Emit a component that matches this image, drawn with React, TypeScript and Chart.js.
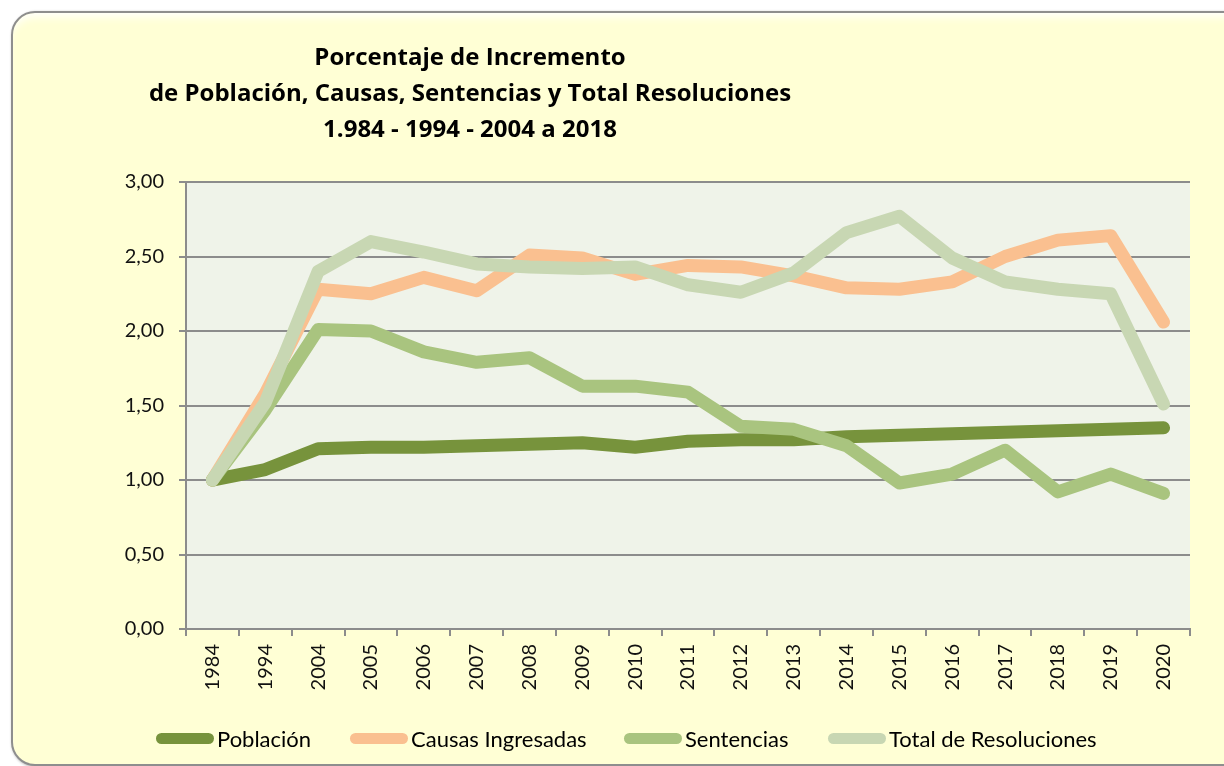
import React, { useEffect, useRef } from "react";
import { Chart, registerables } from "chart.js";

Chart.register(...registerables);

const categories = ["1984", "1994", "2004", "2005", "2006", "2007", "2008", "2009", "2010", "2011", "2012", "2013", "2014", "2015", "2016", "2017", "2018", "2019", "2020"];
const poblacion = [1.0, 1.07, 1.21, 1.22, 1.22, 1.23, 1.24, 1.25, 1.22, 1.26, 1.27, 1.27, 1.29, 1.3, 1.31, 1.32, 1.33, 1.34, 1.35];
const causas = [1.0, 1.58, 2.28, 2.25, 2.36, 2.27, 2.51, 2.49, 2.38, 2.44, 2.43, 2.37, 2.29, 2.28, 2.33, 2.5, 2.61, 2.64, 2.06];
const sentencias = [1.0, 1.47, 2.01, 2.0, 1.86, 1.79, 1.82, 1.63, 1.63, 1.59, 1.36, 1.34, 1.23, 0.98, 1.04, 1.2, 0.92, 1.04, 0.91];
const totalResoluciones = [1.0, 1.52, 2.4, 2.6, 2.53, 2.45, 2.43, 2.42, 2.43, 2.31, 2.26, 2.39, 2.66, 2.77, 2.49, 2.33, 2.28, 2.25, 1.51];

const seriesNames = ["Población", "Causas Ingresadas", "Sentencias", "Total de Resoluciones"];
const seriesColors = ["#77933C", "#FAC090", "#A9C47F", "#C8D7B3"];
const seriesData = [poblacion, causas, sentencias, totalResoluciones];
const legendLefts = [156, 350, 624, 828];

const titleLines = ["Porcentaje de Incremento", "de Población, Causas, Sentencias y Total Resoluciones", "1.984 - 1994 - 2004 a 2018"];

const FONT = "Lato, 'Open Sans', sans-serif";
const TITLE_FONT = "'Open Sans', Lato, sans-serif";

export default function App() {
  const canvasRef = useRef<HTMLCanvasElement | null>(null);

  useEffect(() => {
    const canvas = canvasRef.current;
    if (!canvas) return;
    const bgPlugin = {
      id: "plotBg",
      beforeDraw(chart: any) {
        const { ctx, chartArea } = chart;
        ctx.save();
        ctx.fillStyle = "#EFF3E9";
        ctx.fillRect(chartArea.left, chartArea.top, chartArea.right - chartArea.left, chartArea.bottom - chartArea.top);
        ctx.restore();
      },
    };
    const chart = new Chart(canvas, {
      type: "line",
      data: {
        labels: categories,
        datasets: seriesData.map((d, i) => ({
          label: seriesNames[i],
          data: d,
          borderColor: seriesColors[i],
          backgroundColor: seriesColors[i],
          borderWidth: 13,
          borderCapStyle: "round",
          borderJoinStyle: "round",
          pointRadius: 0,
          pointHoverRadius: 0,
          tension: 0,
          fill: false,
          order: seriesData.length - i,
        })),
      },
      options: {
        responsive: false,
        animation: false,
        events: [],
        layout: { padding: { left: 0, top: 182, right: 34, bottom: 0 } },
        plugins: {
          legend: { display: false },
          title: { display: false },
          tooltip: { enabled: false },
        },
        scales: {
          x: {
            type: "category",
            offset: true,
            grid: {
              offset: true,
              drawOnChartArea: false,
              drawTicks: true,
              tickLength: 7,
              color: "#8C8C8C",
              lineWidth: 2,
            },
            border: { display: true, color: "#8C8C8C", width: 2 },
            ticks: {
              maxRotation: 90,
              minRotation: 90,
              padding: 8,
              color: "#111",
              font: { family: FONT, size: 20 },
              autoSkip: false,
            },
            afterFit(scale: any) {
              scale.height = 766 - 629;
            },
          },
          y: {
            min: 0,
            max: 3,
            grid: {
              color: "#8C8C8C",
              lineWidth: 2,
              tickLength: 7,
              drawTicks: true,
            },
            border: { display: true, color: "#8C8C8C", width: 2 },
            ticks: {
              stepSize: 0.5,
              padding: 15,
              color: "#111",
              font: { family: FONT, size: 20 },
              callback: (v: any) => Number(v).toFixed(2).replace(".", ","),
            },
            afterFit(scale: any) {
              scale.width = 186;
            },
          },
        },
      },
      plugins: [bgPlugin],
    } as any);
    return () => chart.destroy();
  }, []);

  return (
    <div style={{ position: "absolute", left: 0, top: 0, width: 1224, height: 766, overflow: "hidden", background: "#ffffff" }}>
      <div
        style={{
          position: "absolute",
          left: 11,
          top: 11,
          width: 1260,
          height: 751,
          border: "2px solid #8E8E8E",
          borderRadius: 24,
          background: "#FFFFD5",
          boxShadow: "1px 1px 3px rgba(0,0,0,0.35), inset 0 8px 8px -4px rgba(255,255,255,0.95)",
        }}
      />
      <canvas ref={canvasRef} width={1224} height={766} style={{ position: "absolute", left: 0, top: 0, width: 1224, height: 766 }} />
      <div
        style={{
          position: "absolute",
          left: 0,
          top: 38,
          width: 940,
          textAlign: "center",
          fontFamily: TITLE_FONT,
          fontWeight: 700,
          fontSize: 24,
          lineHeight: "36px",
          color: "#000",
        }}
      >
        {titleLines.map((t, i) => (
          <div key={i}>{t}</div>
        ))}
      </div>
      {seriesNames.map((n, i) => (
        <div
          key={i}
          style={{
            position: "absolute",
            left: legendLefts[i],
            top: 724,
            height: 28,
            display: "flex",
            alignItems: "center",
            fontFamily: FONT,
            fontSize: 22,
            color: "#000",
            whiteSpace: "nowrap",
          }}
        >
          <span style={{ display: "inline-block", width: 58, height: 11, borderRadius: 6, background: seriesColors[i], marginRight: 3 }} />
          <span>{n}</span>
        </div>
      ))}
    </div>
  );
}
